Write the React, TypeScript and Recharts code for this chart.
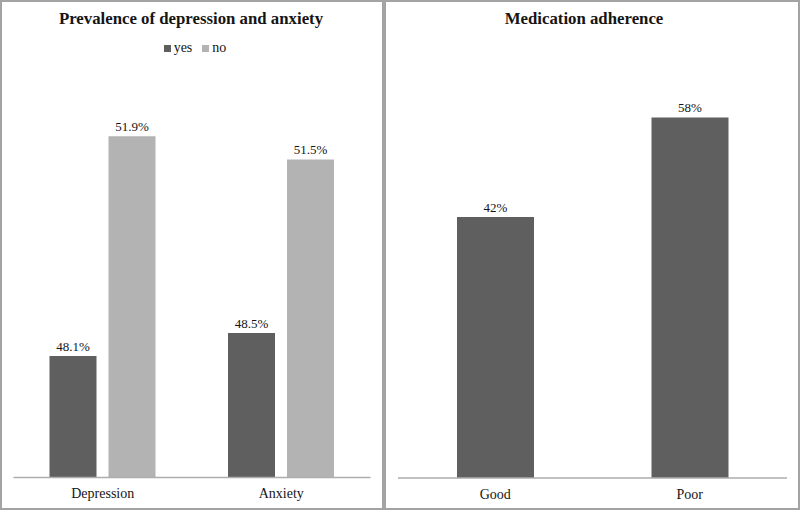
import { BarChart, Bar, XAxis, YAxis, LabelList } from "recharts";

const conditions = ["Depression", "Anxiety"];
const yesPct = [48.1, 48.5];
const noPct = [51.9, 51.5];

const adherenceLevels = ["Good", "Poor"];
const adherencePct = [42, 58];

const DARK = "#5f5f5f";
const LIGHT = "#b3b3b3";
const FRAME = "#a3a3a3";
const AXIS = "#adadad";
const INK = "#151515";
const SERIF = '"Liberation Serif", "Times New Roman", serif';

const prevalenceData = conditions.map((name, i) => ({
  name,
  yes: yesPct[i],
  no: noPct[i],
}));

const adherenceData = adherenceLevels.map((name, i) => ({
  name,
  value: adherencePct[i],
}));

const legendItems = [
  { label: "yes", color: DARK },
  { label: "no", color: LIGHT },
];

const pct = (v: unknown) => `${v}%`;
const labelStyle = { fill: INK, fontSize: 13, fontFamily: SERIF };
const tickStyle = { fill: INK, fontSize: 14, fontFamily: SERIF };

function Panel({
  left,
  width,
  title,
  titleCenter,
}: {
  left: number;
  width: number;
  title: string;
  titleCenter: number;
}) {
  return (
    <>
      <div
        style={{
          position: "absolute",
          left,
          top: 0,
          width,
          height: 510,
          boxSizing: "border-box",
          border: `2px solid ${FRAME}`,
        }}
      />
      <div
        style={{
          position: "absolute",
          left: titleCenter - 200,
          width: 400,
          top: 9,
          textAlign: "center",
          fontFamily: SERIF,
          fontWeight: "bold",
          fontSize: 16.8,
          color: INK,
          lineHeight: "20px",
        }}
      >
        {title}
      </div>
    </>
  );
}

export default function App() {
  return (
    <div
      style={{
        position: "absolute",
        left: 0,
        top: 0,
        width: 800,
        height: 511,
        background: "#fff",
      }}
    >
      <Panel left={0} width={384} title="Prevalence of depression and anxiety" titleCenter={191} />
      <Panel left={384} width={416} title="Medication adherence" titleCenter={584} />

      {/* legend for the left panel */}
      <div
        style={{
          position: "absolute",
          left: 0,
          width: 384,
          top: 39,
          display: "flex",
          justifyContent: "center",
          gap: 10,
          fontFamily: SERIF,
          fontSize: 14,
          color: INK,
          lineHeight: "18px",
          paddingLeft: 6,
          boxSizing: "border-box",
        }}
      >
        {legendItems.map((it) => (
          <span key={it.label} style={{ display: "flex", alignItems: "center" }}>
            <span
              style={{
                display: "inline-block",
                width: 7,
                height: 7,
                background: it.color,
                marginRight: 3,
              }}
            />
            {it.label}
          </span>
        ))}
      </div>

      <div style={{ position: "absolute", left: 0, top: 0 }}>
        <BarChart
          width={384}
          height={511}
          data={prevalenceData}
          margin={{ top: 130.5, right: 13.5, bottom: 3.5, left: 13.5 }}
          barGap={12}
        >
          <XAxis
            dataKey="name"
            axisLine={{ stroke: AXIS, strokeWidth: 1.5 }}
            tickLine={false}
            tick={tickStyle}
            tickMargin={5}
          />
          <YAxis hide domain={[46, 52]} />
          <Bar dataKey="yes" fill={DARK} barSize={47} isAnimationActive={false}>
            <LabelList dataKey="yes" position="top" formatter={pct} style={labelStyle} />
          </Bar>
          <Bar dataKey="no" fill={LIGHT} barSize={47} isAnimationActive={false}>
            <LabelList dataKey="no" position="top" formatter={pct} style={labelStyle} />
          </Bar>
        </BarChart>
      </div>

      <div style={{ position: "absolute", left: 384, top: 0 }}>
        <BarChart
          width={416}
          height={511}
          data={adherenceData}
          margin={{ top: 105, right: 13, bottom: 3, left: 14 }}
        >
          <XAxis
            dataKey="name"
            axisLine={{ stroke: AXIS, strokeWidth: 1.5 }}
            tickLine={false}
            tick={tickStyle}
            tickMargin={5}
          />
          <YAxis hide domain={[0, 60]} />
          <Bar dataKey="value" fill={DARK} barSize={77} isAnimationActive={false}>
            <LabelList dataKey="value" position="top" formatter={pct} style={labelStyle} />
          </Bar>
        </BarChart>
      </div>
    </div>
  );
}
